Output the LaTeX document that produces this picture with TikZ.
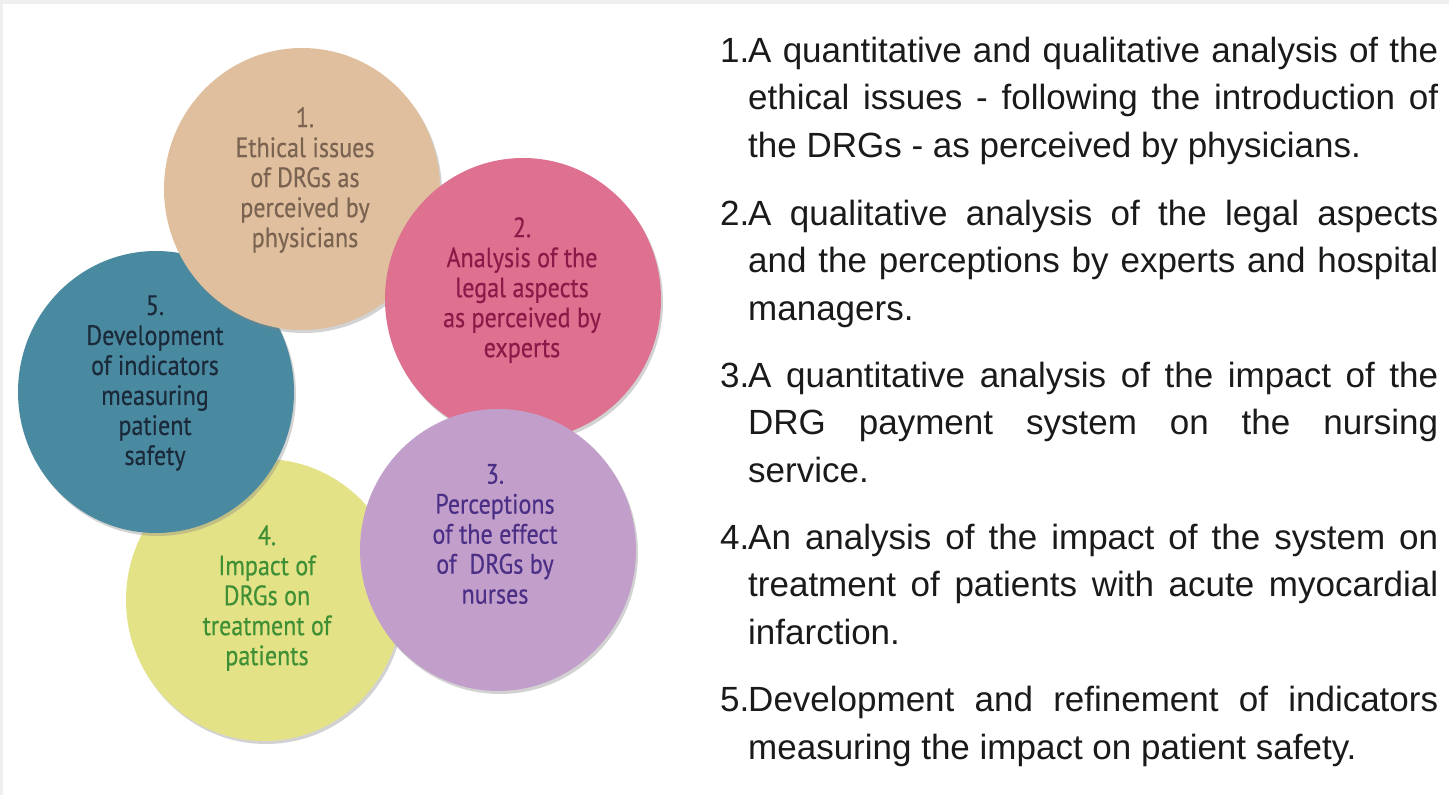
\documentclass[tikz,border=0pt]{standalone}
\usepackage{fontspec}
\setmainfont{Liberation Sans}
\newfontfamily\listfont{Liberation Sans}
\newfontfamily\circfont[FakeStretch=0.86,FakeBold=0.4]{PT Sans}
\usetikzlibrary{shapes.geometric,shadows}

\definecolor{pagegray}{HTML}{EFEFEF}
\definecolor{tanfill}{HTML}{DFBF9D}
\definecolor{tantext}{HTML}{7B6352}
\definecolor{pinkfill}{HTML}{DE7090}
\definecolor{pinktext}{HTML}{8B1A48}
\definecolor{lilacfill}{HTML}{C29FCA}
\definecolor{lilactext}{HTML}{4B2F86}
\definecolor{yellowfill}{HTML}{E4E287}
\definecolor{yellowtext}{HTML}{3F8F35}
\definecolor{tealfill}{HTML}{4A8AA0}
\definecolor{tealtext}{HTML}{1B2A3A}
\definecolor{listtext}{HTML}{1A1A1A}

\tikzset{
  bubble/.style={ellipse, draw=none, inner sep=0pt,
    minimum width=276pt, minimum height=282pt,
    drop shadow={shadow xshift=2pt, shadow yshift=-3pt, opacity=0.35}},
  bubbletext/.style={align=center, inner sep=0pt,
    font=\circfont\fontsize{28}{30}\selectfont},
  % anchored at the baseline of the last line of each item
  item/.style={anchor=base west, align=left, inner sep=0pt, text=listtext,
    font=\listfont\fontsize{35}{47.5}\selectfont}
}

\newcommand{\numbox}[1]{\makebox[28pt][l]{#1}}
\newcommand{\fullline}[1]{\makebox[690pt][s]{#1}}
\newcommand{\indentline}{\hspace*{28pt}}

\begin{document}
\begin{tikzpicture}[x=1pt,y=-1pt]
  \useasboundingbox (0,0) rectangle (1449,795);
  % page frame
  \fill[pagegray] (0,0) rectangle (1449,795);
  \fill[white] (3,4) rectangle (1449,795);

  % bubbles, back to front
  \node[bubble, fill=yellowfill] (c4) at (264,600) {};
  \node[bubbletext, text=yellowtext] (t4) at (267,598)
    {4.\\Impact of\\DRGs on\\treatment of\\patients};

  \node[bubble, fill=tealfill] (c5) at (156,392) {};
  \node[bubbletext, text=tealtext] (t5) at (155,383)
    {5.\\Development\\of indicators\\measuring\\patient\\safety};

  \node[bubble, fill=tanfill] (c1) at (302,189) {};
  \node[bubbletext, text=tantext] (t1) at (305,180)
    {1.\\Ethical issues\\of DRGs as\\perceived by\\physicians};

  \node[bubble, fill=pinkfill] (c2) at (523,299) {};
  \node[bubbletext, text=pinktext] (t2) at (522,290)
    {2.\\Analysis of the\\legal aspects\\as perceived by\\experts};

  \node[bubble, fill=lilacfill] (c3) at (498,550) {};
  \node[bubbletext, text=lilactext] (t3) at (495,534)
    {3.\\Perceptions\\of the effect\\of~ DRGs by\\nurses};

  % numbered list
  \node[item] (l1) at (720,157)
    {\numbox{1.}\fullline{A quantitative and qualitative analysis of the}\\
     \indentline\fullline{ethical issues - following the introduction of}\\
     \indentline the DRGs - as perceived by physicians.};
  \node[item] (l2) at (720,320)
    {\numbox{2.}\fullline{A qualitative analysis of the legal aspects}\\
     \indentline\fullline{and the perceptions by experts and hospital}\\
     \indentline managers.};
  \node[item] (l3) at (720,482)
    {\numbox{3.}\fullline{A quantitative analysis of the impact of the}\\
     \indentline\fullline{DRG payment system on the nursing}\\
     \indentline service.};
  \node[item] (l4) at (720,644)
    {\numbox{4.}\fullline{An analysis of the impact of the system on}\\
     \indentline\fullline{treatment of patients with acute myocardial}\\
     \indentline infarction.};
  \node[item] (l5) at (720,759)
    {\numbox{5.}\fullline{Development and refinement of indicators}\\
     \indentline measuring the impact on patient safety.};
\end{tikzpicture}
\end{document}
